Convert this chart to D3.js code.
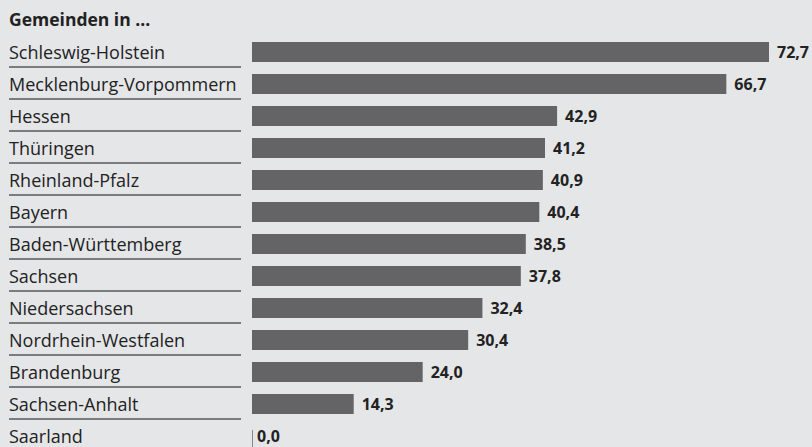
<!DOCTYPE html>
<html>
<head>
<meta charset="utf-8">
<script src="https://cdn.jsdelivr.net/npm/d3@7"></script>
<style>
  html, body { margin: 0; padding: 0; background: #e5e6e8; }
  svg { display: block; font-family: 'Open Sans', sans-serif; }
</style>
</head>
<body>
<div id="chart"></div>
<script>
const states = ['Schleswig-Holstein', 'Mecklenburg-Vorpommern', 'Hessen', 'Thüringen',
  'Rheinland-Pfalz', 'Bayern', 'Baden-Württemberg', 'Sachsen', 'Niedersachsen',
  'Nordrhein-Westfalen', 'Brandenburg', 'Sachsen-Anhalt', 'Saarland']
const values = [72.7, 66.7, 42.9, 41.2, 40.9, 40.4, 38.5, 37.8, 32.4, 30.4, 24.0, 14.3, 0.0]
const title = 'Gemeinden in ...'

let barC = '#646466'
let textC = '#222222'
let ruleC = '#58585a'

var width = 812
var height = 447

var svg = d3.select('#chart').append('svg')
  .attr('width', width)
  .attr('height', height)

svg.append('rect')
  .attr('width', width)
  .attr('height', height)
  .attr('fill', '#e5e6e8')

// scales
var x = d3.scaleLinear().domain([0, 72.7]).range([252, 769])
var y = d3.scaleBand().domain(states).range([36, 36 + 32 * states.length]).paddingInner(0.375).paddingOuter(0.1875)

svg.append('text')
  .attr('x', 9)
  .attr('y', 26)
  .style('font-size', '17.5px')
  .style('font-weight', 'bold')
  .style('fill', textC)
  .text(title)

var rows = svg.selectAll('g.row')
  .data(states)
  .enter().append('g')
    .attr('class', 'row')

rows.append('text')
  .attr('x', 9)
  .attr('y', d => y(d) + y.bandwidth() / 2 + 7)
  .style('font-size', '18px')
  .style('fill', textC)
  .text(d => d)

// separator rules between rows
rows.filter((d, i) => i < states.length - 1)
  .append('line')
    .attr('x1', 9)
    .attr('x2', 241)
    .attr('y1', d => y(d) + y.bandwidth() + 5)
    .attr('y2', d => y(d) + y.bandwidth() + 5)
    .attr('stroke', ruleC)
    .attr('stroke-width', 1.5)

rows.append('rect')
  .attr('x', x(0))
  .attr('y', d => y(d))
  .attr('width', (d, i) => x(values[i]) - x(0))
  .attr('height', y.bandwidth())
  .attr('fill', barC)

rows.append('text')
  .attr('x', (d, i) => x(values[i]) + (values[i] === 0 ? 5 : 8))
  .attr('y', d => y(d) + y.bandwidth() / 2 + 6)
  .style('font-size', '16px')
  .style('font-weight', 'bold')
  .style('fill', textC)
  .text((d, i) => d3.format('.1f')(values[i]).replace('.', ','))

// zero baseline
svg.append('line')
  .attr('x1', x(0) + 0.5)
  .attr('x2', x(0) + 0.5)
  .attr('y1', y(states[states.length - 1]) + 4)
  .attr('y2', height)
  .attr('stroke', '#888')
  .attr('stroke-width', 1)
</script>
</body>
</html>
